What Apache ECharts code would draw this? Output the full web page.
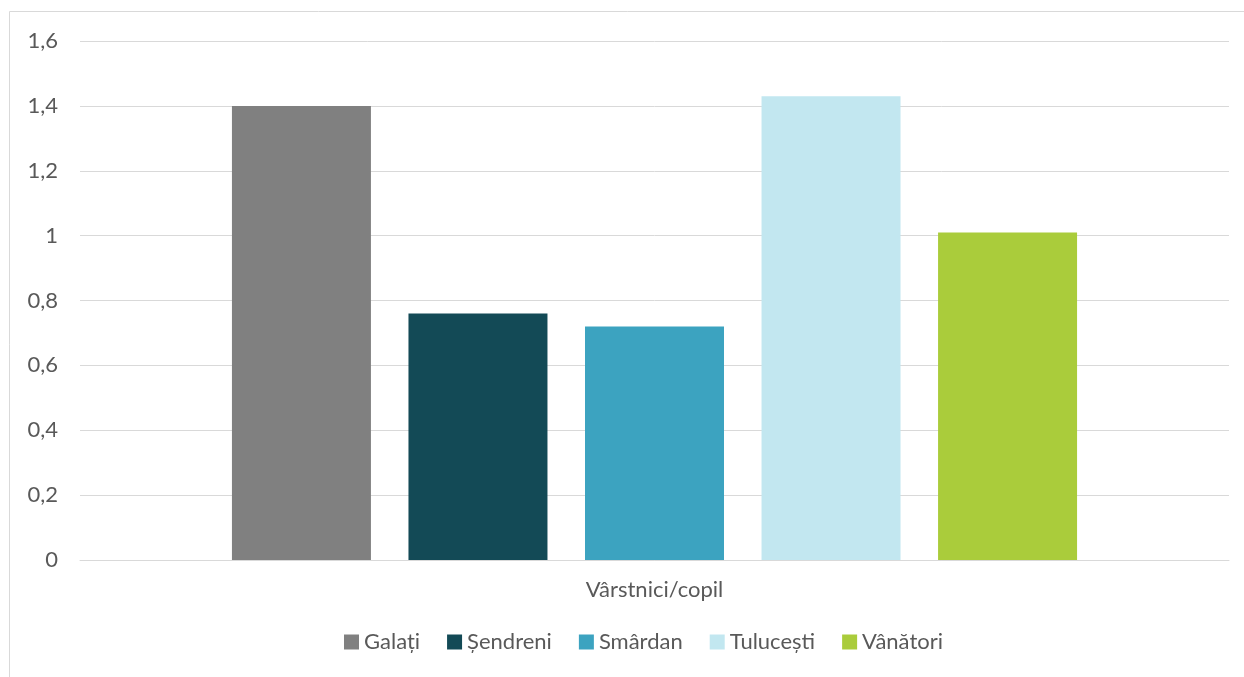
<!DOCTYPE html>
<html><head><meta charset="utf-8">
<script src="https://cdn.jsdelivr.net/npm/echarts@6/dist/echarts.min.js"></script>
<style>html,body{margin:0;padding:0;background:#fff}#c{width:1244px;height:677px}</style>
</head><body><div id="c"></div>
<script>
const categories = ['Vârstnici/copil'];
const seriesNames = ['Galați', 'Șendreni', 'Smârdan', 'Tulucești', 'Vânători'];
const galati = [1.40];
const sendreni = [0.76];
const smardan = [0.72];
const tulucesti = [1.43];
const vanatori = [1.01];
const yTicks = [0, 0.2, 0.4, 0.6, 0.8, 1, 1.2, 1.4, 1.6];

const values = [galati, sendreni, smardan, tulucesti, vanatori];
const colors = ['#808080', '#134a56', '#3ca3c0', '#c2e7f0', '#aacc3b'];
const font = 'Lato, "Open Sans", sans-serif';

const chart = echarts.init(document.getElementById('c'));
chart.setOption({
  animation: false,
  textStyle: { fontFamily: font },
  graphic: [{
    type: 'rect', silent: true,
    shape: { x: 9.5, y: 11.5, width: 1300, height: 700 },
    style: { fill: 'none', stroke: '#d9d9d9', lineWidth: 1 }
  }],
  grid: { left: 80, right: 15, top: 41, bottom: 117 },
  legend: {
    bottom: 19, left: 339, itemWidth: 15, itemHeight: 15, itemGap: 27,
    icon: 'rect',
    textStyle: { fontSize: 22, color: '#595959', fontFamily: font },
    data: seriesNames
  },
  xAxis: {
    type: 'category', data: categories,
    axisLine: { show: true, lineStyle: { color: '#d9d9d9', width: 1 } },
    axisTick: { show: false },
    axisLabel: { fontSize: 22, color: '#595959', margin: 19, fontFamily: font }
  },
  yAxis: {
    type: 'value', min: yTicks[0], max: yTicks[yTicks.length - 1], interval: 0.2,
    axisLine: { show: false }, axisTick: { show: false },
    splitLine: { lineStyle: { color: '#d9d9d9', width: 1 } },
    axisLabel: {
      fontSize: 22, color: '#595959', margin: 22, fontFamily: font,
      formatter: v => String(Math.round(v * 10) / 10).replace('.', ',')
    }
  },
  series: seriesNames.map((n, i) => ({
    name: n, type: 'bar', data: values[i], barWidth: 139, barGap: '27%',
    itemStyle: { color: colors[i] }
  }))
});
</script></body></html>
